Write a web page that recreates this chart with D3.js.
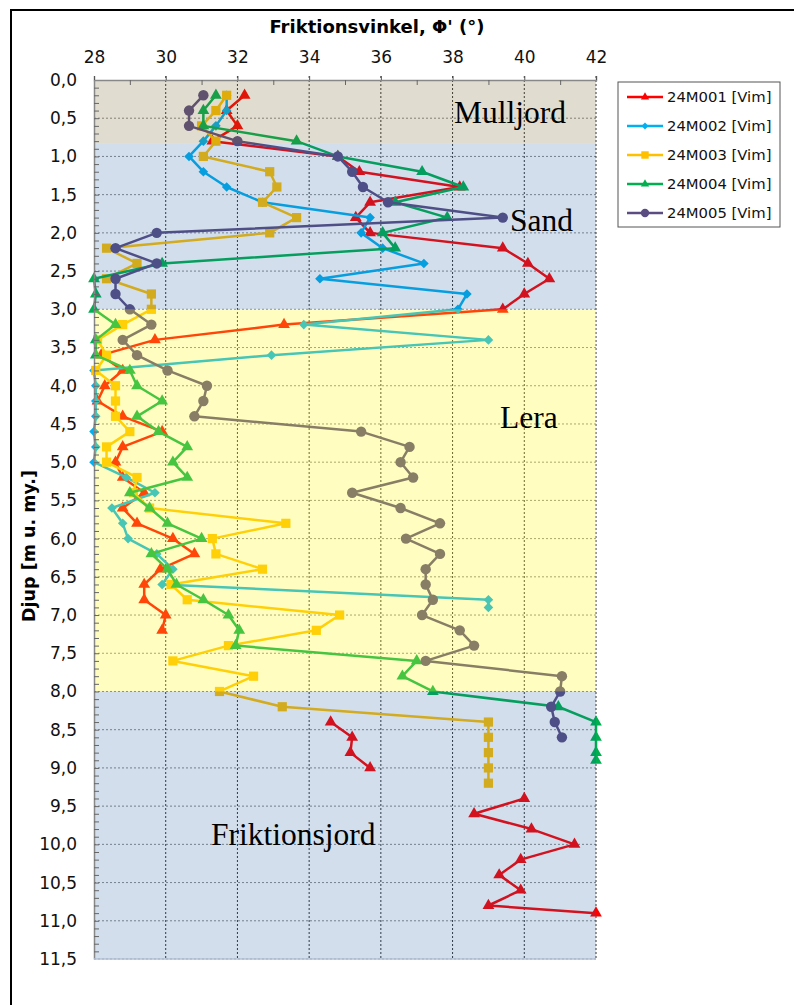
<!DOCTYPE html>
<html>
<head>
<meta charset="utf-8">
<script src="https://cdn.jsdelivr.net/npm/d3@7/dist/d3.min.js"></script>
<style>
  body { margin: 0; background: #fff; }
  text { font-family: "DejaVu Sans", Verdana, sans-serif; }
</style>
</head>
<body>
<div id="chart"></div>
<script>
// tick values
const angleTicks = [28, 30, 32, 34, 36, 38, 40, 42];
const depthTicks = d3.range(0, 11.51, 0.5);

// series (depth in m, friction angle in degrees, null = break in line)
const names = ["24M001 [Vim]", "24M002 [Vim]", "24M003 [Vim]", "24M004 [Vim]", "24M005 [Vim]"];

const depth001 = [0.2, 0.4, 0.6, 0.8, 1.0, 1.2, 1.4, 1.6, 1.8, 2.0, 2.2, 2.4, 2.6, 2.8, 3.0, 3.2, 3.4, 3.6, 3.8, 4.0,
  4.2, 4.4, 4.6, 4.8, 5.0, 5.2, 5.4, 5.6, 5.8, 6.0, 6.2, 6.4, 6.6, 6.8, 7.0, 7.2, 7.8, 8.4, 8.6, 8.8, 9.0, 9.2,
  9.4, 9.6, 9.8, 10.0, 10.2, 10.4, 10.6, 10.8, 10.9];
const angle001 = [32.2, 31.7, 32.0, 31.3, 34.8, 35.4, 38.2, 35.7, 35.3, 35.7, 39.4, 40.1, 40.7, 40.0, 39.4, 33.3, 29.7, 28.2, 28.8, 28.3,
  28.1, 28.8, 29.9, 28.8, 28.6, 28.8, 29.4, 28.8, 29.2, 30.2, 30.8, 29.85, 29.4, 29.4, 30.0, 29.9, null, 34.6, 35.2, 35.15, 35.7, null,
  40.0, 38.6, 40.2, 41.4, 39.9, 39.3, 39.9, 39.0, 42.0];

const depth002 = [0.2, 0.4, 0.6, 0.8, 1.0, 1.2, 1.4, 1.6, 1.8, 2.0, 2.2, 2.4, 2.6, 2.8, 3.0, 3.2, 3.4, 3.6, 3.8, 4.0,
  4.2, 4.4, 4.6, 4.8, 5.0, 5.2, 5.4, 5.6, 5.8, 6.0, 6.2, 6.4, 6.6, 6.8, 6.9];
const angle002 = [31.7, 31.7, 31.4, 31.05, 30.65, 31.05, 31.7, 32.7, 35.7, 35.45, 36.05, 37.2, 34.3, 38.4, 38.15, 33.85, 39.0, 32.95, 28.0, 28.05,
  28.05, 28.05, 28.0, 28.05, 28.0, 28.9, 29.7, 28.5, 28.8, 28.95, 29.75, 30.2, 29.9, 39.0, 39.0];

const depth003 = [0.2, 0.4, 0.6, 0.8, 1.0, 1.2, 1.4, 1.6, 1.8, 2.0, 2.2, 2.4, 2.6, 2.8, 3.0, 3.2, 3.4, 3.6, 3.8, 4.0,
  4.2, 4.4, 4.6, 4.8, 5.0, 5.2, 5.4, 5.6, 5.8, 6.0, 6.2, 6.4, 6.6, 6.8, 7.0, 7.2, 7.4, 7.6, 7.8, 8.0,
  8.2, 8.4, 8.6, 8.8, 9.0, 9.2];
const angle003 = [31.7, 31.4, 31.0, 31.4, 31.05, 32.9, 33.1, 32.7, 33.65, 32.9, 28.35, 29.2, 28.35, 29.6, 29.6, 28.8, 28.1, 28.35, 28.05, 28.6,
  28.6, 28.6, 29.0, 28.35, 28.35, 29.2, 29.1, 29.55, 33.35, 31.3, 31.4, 32.7, 30.15, 30.6, 34.85, 34.2, 31.75, 30.2, 32.45, 31.5,
  33.25, 39.0, 39.0, 39.0, 39.0, 39.0];

const depth004 = [0.2, 0.4, 0.6, 0.8, 1.0, 1.2, 1.4, 1.6, 1.8, 2.0, 2.2, 2.4, 2.6, 2.8, 3.0, 3.2, 3.4, 3.6, 3.8, 4.0,
  4.2, 4.4, 4.6, 4.8, 5.0, 5.2, 5.4, 5.6, 5.8, 6.0, 6.2, 6.4, 6.6, 6.8, 7.0, 7.2, 7.4, 7.6, 7.8, 8.0,
  8.2, 8.4, 8.6, 8.8, 8.9];
const angle004 = [31.4, 31.05, 31.05, 33.65, 34.8, 37.15, 38.3, 36.4, 37.85, 36.05, 36.4, 29.9, 28.0, 28.05, 28.0, 28.6, 28.05, 28.05, 29.0, 29.2,
  29.9, 29.2, 29.8, 30.6, 30.2, 30.6, 29.0, 29.55, 30.05, 31.0, 29.6, 30.05, 30.3, 31.05, 31.75, 32.05, 31.95, 37.0, 36.6, 37.45,
  40.95, 42.0, 42.0, 42.0, 42.0];

const depth005 = [0.2, 0.4, 0.6, 0.8, 1.0, 1.2, 1.4, 1.6, 1.8, 2.0, 2.2, 2.4, 2.6, 2.8, 3.0, 3.2, 3.4, 3.6, 3.8, 4.0,
  4.2, 4.4, 4.6, 4.8, 5.0, 5.2, 5.4, 5.6, 5.8, 6.0, 6.2, 6.4, 6.6, 6.8, 7.0, 7.2, 7.4, 7.6, 7.8, 8.0,
  8.2, 8.4, 8.6];
const angle005 = [31.05, 30.65, 30.65, 32.0, 34.8, 35.2, 35.5, 36.2, 39.4, 29.75, 28.6, 29.75, 28.6, 28.6, 29.0, 29.6, 28.8, 29.2, 30.05, 31.15,
  31.05, 30.8, 35.45, 36.8, 36.55, 36.9, 35.2, 36.55, 37.65, 36.7, 37.65, 37.25, 37.25, 37.45, 37.15, 38.2, 38.6, 37.25, 41.05, 41.0,
  40.75, 40.85, 41.05];

// soil layers (depth range)
const layerNames = ["Mulljord", "Sand", "Lera", "Friktionsjord"];
const layerTop = [0, 0.83, 3.0, 8.0];
const layerBottom = [0.83, 3.0, 8.0, 11.5];

const width = 794, height = 1005;
const colors = ["#ff0000", "#00b0f0", "#ffc000", "#00b050", "#5b4d82"];
const shapes = ["triangle", "diamond", "square", "triangle", "circle"];
// translucent overlays per layer (drawn above the curves)
const layerFill = [["rgb(115,100,40)", 0.22], ["rgb(30,90,155)", 0.2], ["rgb(255,250,30)", 0.28], ["rgb(30,90,155)", 0.2]];
const layerLabel = [[454, 123], [510, 231], [500, 428], [211, 845]];

const series = [
  [depth001, angle001], [depth002, angle002], [depth003, angle003], [depth004, angle004], [depth005, angle005]
].map((s, i) => ({
  name: names[i], color: colors[i], shape: shapes[i],
  points: s[0].map((d, j) => ({ depth: d, angle: s[1][j] }))
}));

const x = d3.scaleLinear().domain([28, 42]).range([94, 596]);
const y = d3.scaleLinear().domain([0, 11.5]).range([80, 959]);

const svg = d3.select("#chart").append("svg")
  .attr("width", width).attr("height", height);

// outer frame
svg.append("rect").attr("x", 11).attr("y", 10).attr("width", 900).attr("height", 1100)
  .attr("fill", "none").attr("stroke", "#000").attr("stroke-width", 2);

const plot = svg.append("g");

// plot background
plot.append("rect").attr("x", x(28)).attr("y", y(0))
  .attr("width", x(42) - x(28)).attr("height", y(11.5) - y(0)).attr("fill", "#fff");

// grid
plot.append("g").selectAll("line").data(depthTicks.slice(1))
  .join("line")
  .attr("x1", x(28)).attr("x2", x(42))
  .attr("y1", d => y(d)).attr("y2", d => y(d))
  .attr("stroke", "#8a8a8a").attr("stroke-width", 1).attr("stroke-dasharray", "2,2");
plot.append("g").selectAll("line").data(angleTicks.slice(1))
  .join("line")
  .attr("x1", d => x(d)).attr("x2", d => x(d))
  .attr("y1", y(0) - 4).attr("y2", y(11.5))
  .attr("stroke", "#333").attr("stroke-width", 1).attr("stroke-dasharray", "2,2");

function symbolFor(shape, big) {
  if (shape === "triangle") return d3.symbol(d3.symbolTriangle, big ? 60 : 30);
  if (shape === "diamond") return d3.symbol(d3.symbolSquare, big ? 46 : 24);
  if (shape === "square") return d3.symbol(d3.symbolSquare, big ? 85 : 55);
  return d3.symbol(d3.symbolCircle, big ? 85 : 55);
}

const line = d3.line()
  .defined(d => d.angle !== null)
  .x(d => x(d.angle)).y(d => y(d.depth));

const curves = plot.append("g").selectAll("g").data(series).join("g");
curves.append("path")
  .attr("d", d => line(d.points))
  .attr("fill", "none").attr("stroke", d => d.color)
  .attr("stroke-width", 2.5).attr("stroke-linejoin", "round");
curves.each(function (s) {
  d3.select(this).selectAll(".pt").data(s.points.filter(p => p.angle !== null))
    .join("path").attr("class", "pt")
    .attr("d", symbolFor(s.shape, true))
    .attr("transform", p => `translate(${x(p.angle)},${y(p.depth)})` + (s.shape === "diamond" ? " rotate(45)" : ""))
    .attr("fill", s.color);
});

// layer overlays
plot.append("g").selectAll("rect").data(layerNames)
  .join("rect")
  .attr("x", x(28)).attr("width", x(42) - x(28))
  .attr("y", (d, i) => y(layerTop[i]))
  .attr("height", (d, i) => y(layerBottom[i]) - y(layerTop[i]))
  .attr("fill", (d, i) => layerFill[i][0])
  .attr("fill-opacity", (d, i) => layerFill[i][1]);

// axes
const topAxis = plot.append("g").attr("transform", `translate(0,${y(0)})`)
  .call(d3.axisTop(x).tickValues(angleTicks).tickSize(4).tickPadding(13));
topAxis.select(".domain").attr("stroke", "#888").attr("stroke-width", 1.5);
topAxis.selectAll(".tick line").attr("stroke", "#555");
topAxis.selectAll("text").attr("font-size", 17).attr("fill", "#111")
  .attr("font-family", "DejaVu Sans, sans-serif");
plot.append("g").attr("transform", `translate(0,${y(0)})`)
  .call(d3.axisBottom(x).tickValues(d3.range(29, 42, 2)).tickSize(5).tickFormat(""))
  .call(g => g.select(".domain").remove())
  .selectAll("line").attr("stroke", "#666");

const leftAxis = plot.append("g").attr("transform", `translate(${x(28)},0)`)
  .call(d3.axisLeft(y).tickValues(depthTicks).tickSize(0).tickPadding(17)
    .tickFormat(d => d3.format(".1f")(d).replace(".", ",")));
leftAxis.select(".domain").attr("stroke", "#888").attr("stroke-width", 1.5);
leftAxis.selectAll("text").attr("font-size", 17).attr("fill", "#111")
  .attr("font-family", "DejaVu Sans, sans-serif");
plot.append("g").attr("transform", `translate(${x(28)},0)`)
  .call(d3.axisRight(y).tickValues(d3.range(1, 115).map(v => v / 10)).tickSize(5).tickFormat(""))
  .call(g => g.select(".domain").remove())
  .selectAll("line").attr("stroke", "#666");

// bottom edge
plot.append("line").attr("x1", x(28)).attr("x2", x(42)).attr("y1", y(11.5)).attr("y2", y(11.5))
  .attr("stroke", "#b4c2d8").attr("stroke-width", 1.5);

// axis titles
svg.append("text").attr("x", 377).attr("y", 33).attr("text-anchor", "middle")
  .attr("font-size", 18).attr("font-weight", "bold").text("Friktionsvinkel, Φ' (°)");
svg.append("text").attr("transform", "translate(35,546) rotate(-90)").attr("text-anchor", "middle")
  .attr("font-size", 17.5).attr("font-weight", "bold").text("Djup [m u. my.]");

// layer labels
plot.append("g").selectAll("text").data(layerNames)
  .join("text")
  .attr("x", (d, i) => layerLabel[i][0]).attr("y", (d, i) => layerLabel[i][1])
  .style("font-family", "'Liberation Serif', 'Times New Roman', serif")
  .attr("font-size", 31.5).attr("fill", "#000")
  .text(d => d);

// legend
const legend = svg.append("g").attr("transform", "translate(618,82)");
legend.append("rect").attr("width", 162).attr("height", 145)
  .attr("fill", "#fff").attr("stroke", "#555").attr("stroke-width", 1);
const items = legend.selectAll(".item").data(series).join("g").attr("class", "item")
  .attr("transform", (d, i) => `translate(0,${15 + i * 29})`);
items.append("line").attr("x1", 9).attr("x2", 45)
  .attr("stroke", d => d.color).attr("stroke-width", 2.5);
items.append("path")
  .attr("d", d => symbolFor(d.shape, false)())
  .attr("transform", d => "translate(27,0)" + (d.shape === "diamond" ? " rotate(45)" : ""))
  .attr("fill", d => d.color);
items.append("text").attr("x", 49).attr("y", 5).attr("font-size", 14.8).attr("fill", "#111")
  .text(d => d.name);
</script>
</body>
</html>
